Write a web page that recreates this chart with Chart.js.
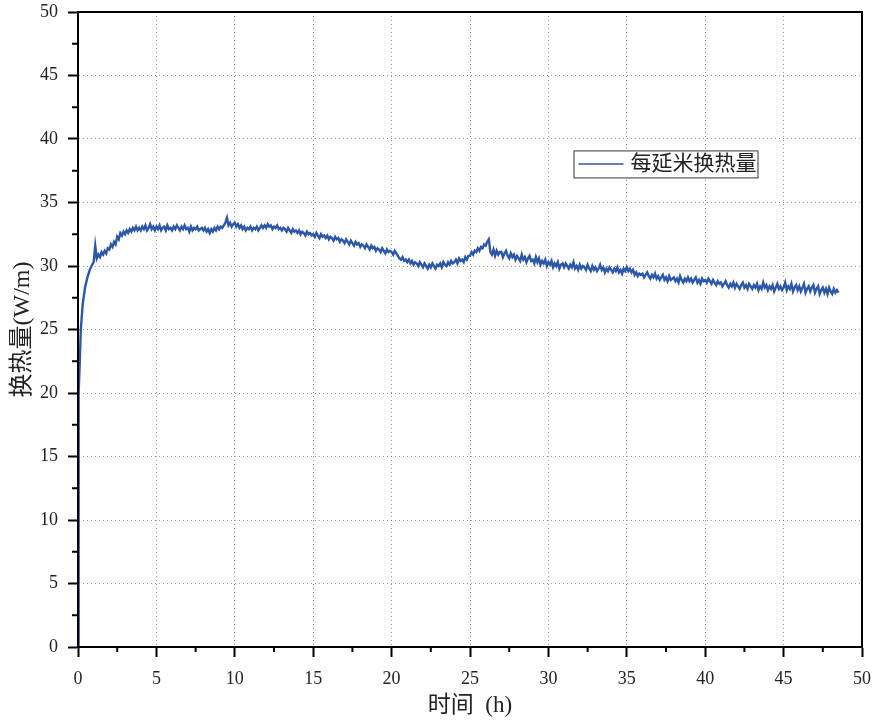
<!DOCTYPE html>
<html>
<head>
<meta charset="utf-8">
<script src="https://cdn.jsdelivr.net/npm/chart.js@4.4.1/dist/chart.umd.min.js"></script>
<style>
    html, body { margin: 0; padding: 0; background: #fff; }
    #wrap { width: 874px; height: 720px; }
</style>
</head>
<body>
<div id="wrap"><canvas id="heatChart"></canvas></div>
<script>

// start-up ramp (hours, W/m)
const rampHours = [0, 0.02, 0.04, 0.06, 0.1, 0.18, 0.3, 0.45, 0.6, 0.75, 0.9];
const rampValues = [0, 12, 17, 20, 22, 25, 27, 28.3, 29.1, 29.7, 30.1];

// logged readings, every 0.1 h from 1.0 h (one row = one hour)
const sampleStart = 1.0;
const sampleStep = 0.1;
const sampleValues = [
    30.3, 31.6, 30.6, 30.9, 30.7, 31.1, 30.9, 31.2, 31.0, 31.4,
    31.3, 31.7, 31.5, 31.9, 31.7, 32.3, 32.1, 32.6, 32.4, 32.7,
    32.5, 32.8, 32.6, 32.9, 32.7, 33.0, 32.8, 33.1, 32.8, 33.0,
    32.8, 33.1, 32.9, 33.2, 32.8, 33.0, 33.3, 32.9, 33.1, 32.8,
    33.1, 32.9, 33.2, 32.8, 33.0, 33.1, 32.8, 33.2, 32.9, 33.0,
    32.8, 33.1, 32.9, 33.2, 33.0, 32.8, 33.1, 32.9, 33.2, 32.9,
    33.0, 32.7, 33.1, 32.8, 33.0, 32.9, 33.1, 32.8, 32.9, 33.0,
    32.8, 33.0, 32.7, 32.9, 32.6, 32.9, 32.7, 33.0, 32.8, 33.1,
    32.9, 33.1, 33.0, 33.2, 33.4, 33.8, 33.2, 33.4, 33.1, 33.3,
    33.4, 33.1, 33.3, 33.0, 33.2, 32.9, 33.1, 32.8, 33.0, 32.9,
    33.1, 32.8, 33.0, 32.9, 33.1, 32.8, 33.0, 33.2, 33.0, 33.2,
    33.0, 33.3, 33.1, 33.2, 32.9, 33.1, 33.0, 33.2, 32.9, 33.0,
    32.8, 33.0, 32.9, 32.7, 33.0, 32.8, 32.6, 32.9, 32.7, 32.8,
    32.6, 32.8, 32.5, 32.7, 32.6, 32.4, 32.7, 32.5, 32.6, 32.4,
    32.5, 32.3, 32.6, 32.4, 32.2, 32.5, 32.3, 32.4, 32.2, 32.4,
    32.1, 32.3, 32.2, 32.0, 32.3, 32.1, 32.2, 31.9, 32.1, 32.0,
    31.8, 32.1, 31.9, 31.7, 32.0, 31.8, 31.6, 31.9, 31.7, 31.8,
    31.5, 31.7, 31.6, 31.4, 31.7, 31.5, 31.3, 31.6, 31.4, 31.5,
    31.2, 31.4, 31.3, 31.1, 31.4, 31.2, 31.0, 31.3, 31.1, 31.2,
    31.1, 30.9, 31.2, 31.0, 30.8, 30.6, 30.5, 30.7, 30.4, 30.5,
    30.3, 30.5, 30.2, 30.4, 30.1, 30.3, 30.2, 30.0, 30.3, 30.1,
    29.9, 30.2, 30.0, 29.8, 30.1, 29.9, 30.2, 30.0, 29.8, 30.1,
    30.0, 30.2, 29.9, 30.3, 30.1, 30.0, 30.3, 30.1, 30.4, 30.2,
    30.3, 30.5, 30.2, 30.6, 30.4, 30.5, 30.3, 30.7, 30.5, 30.8,
    30.8, 31.1, 30.9, 31.2, 31.1, 31.4, 31.2, 31.5, 31.4, 31.7,
    31.6, 31.9, 32.1, 31.1, 30.9, 31.3, 30.8, 31.2, 30.9, 31.1,
    31.1, 30.7, 31.0, 31.2, 30.8, 30.6, 31.0, 30.7, 30.9, 30.5,
    30.8, 30.6, 30.4, 30.9, 30.5, 30.7, 30.3, 30.6, 30.8, 30.4,
    30.5, 30.2, 30.7, 30.3, 30.6, 30.1, 30.4, 30.2, 30.5, 30.0,
    30.3, 30.1, 30.4, 29.9, 30.2, 30.0, 30.3, 29.8, 30.1, 30.2,
    29.9, 30.2, 30.0, 29.8, 30.1, 29.9, 30.3, 29.8, 30.0, 29.7,
    30.1, 29.8, 30.0, 29.9, 29.7, 30.1, 29.8, 29.6, 30.0, 29.7,
    29.9, 29.6, 29.8, 30.1, 29.7, 29.9, 29.5, 29.8, 29.6, 29.9,
    29.7, 29.5, 29.8, 29.6, 29.9, 29.5, 29.7, 29.4, 29.8, 29.6,
    29.9, 29.6, 29.8, 29.5, 29.7, 29.3, 29.5, 29.2, 29.4, 29.3,
    29.4, 29.1, 29.3, 29.5, 29.2, 29.0, 29.3, 29.1, 29.4, 29.0,
    29.2, 28.9, 29.1, 29.3, 28.9, 29.1, 28.8, 29.2, 28.9, 29.0,
    29.1, 28.8, 29.0, 28.7, 29.2, 28.9, 28.7, 29.0, 28.8, 29.1,
    28.8, 29.0, 28.7, 28.9, 29.1, 28.7, 28.9, 28.6, 29.0, 28.8,
    28.9, 28.7, 29.0, 28.8, 28.6, 28.9, 28.7, 28.5, 28.8, 28.6,
    28.7, 28.4, 28.6, 28.8, 28.5, 28.3, 28.6, 28.4, 28.7, 28.3,
    28.6, 28.4, 28.2, 28.5, 28.7, 28.3, 28.5, 28.2, 28.6, 28.4,
    28.2, 28.5, 28.3, 28.6, 28.1, 28.4, 28.2, 28.7, 28.3, 28.5,
    28.1, 28.4, 28.2, 28.5, 28.0, 28.3, 28.6, 28.2, 28.4, 28.1,
    28.3, 28.7, 28.1, 28.4, 28.2, 28.6, 28.0, 28.3, 28.5, 28.1,
    28.4, 28.0, 28.3, 28.6, 27.9, 28.2, 28.4, 28.0, 28.3, 28.5,
    27.9, 28.2, 28.4, 27.8, 28.1, 28.3, 27.9, 28.2, 27.8, 28.3,
    28.0, 27.8, 28.2, 27.9, 28.1, 27.9
];

const seriesName = "每延米换热量";
const xTitle = "时间  (h)";
const yTitle = "换热量(W/m)";
const axisMax = 50;
const majorStep = 5;
const minorStep = 2.5;

const serif = "'Liberation Serif', 'Noto Sans CJK SC', serif";
const lineColor = "#2b57a8";

// build the point list
const points = [];
rampHours.forEach((h, i) => points.push({ x: h, y: rampValues[i] }));
sampleValues.forEach((v, i) => {
    points.push({ x: +(sampleStart + i * sampleStep).toFixed(2), y: v });
});

// black frame + small minor ticks
const framePlugin = {
    id: "frame",
    afterDraw(chart) {
        const { ctx, chartArea, scales } = chart;
        ctx.save();
        ctx.strokeStyle = "#000";
        ctx.lineWidth = 2;
        ctx.strokeRect(chartArea.left, chartArea.top,
            chartArea.right - chartArea.left, chartArea.bottom - chartArea.top);

        ctx.beginPath();
        for (let v = minorStep; v < axisMax; v += majorStep) {
            const px = scales.x.getPixelForValue(v);
            ctx.moveTo(px, chartArea.bottom);
            ctx.lineTo(px, chartArea.bottom + 5);
            const py = scales.y.getPixelForValue(v);
            ctx.moveTo(chartArea.left, py);
            ctx.lineTo(chartArea.left - 6, py);
        }
        ctx.stroke();
        ctx.restore();
    }
};

// legend box inside the plot
const legendBoxPlugin = {
    id: "legendBox",
    afterDraw(chart) {
        const { ctx, scales } = chart;
        const ds = chart.data.datasets[0];
        const left = scales.x.getPixelForValue(31.6);
        const top = scales.y.getPixelForValue(39.1);
        const w = 184, h = 27;
        ctx.save();
        ctx.fillStyle = "#fff";
        ctx.fillRect(left, top, w, h);
        ctx.strokeStyle = "#333";
        ctx.lineWidth = 1;
        ctx.strokeRect(left + 0.5, top + 0.5, w, h);
        ctx.strokeStyle = ds.borderColor;
        ctx.lineWidth = 1.5;
        ctx.beginPath();
        ctx.moveTo(left + 5, top + h / 2);
        ctx.lineTo(left + 50, top + h / 2);
        ctx.stroke();
        ctx.fillStyle = "#222";
        ctx.font = "21px " + serif;
        ctx.textBaseline = "middle";
        ctx.fillText(ds.label, left + 57, top + h / 2 + 1);
        ctx.restore();
    }
};

new Chart(document.getElementById("heatChart"), {
    type: "line",
    data: {
        datasets: [{
            label: seriesName,
            data: points,
            borderColor: lineColor,
            borderWidth: 2.4,
            pointRadius: 0,
            tension: 0,
            fill: false
        }]
    },
    options: {
        responsive: true,
        maintainAspectRatio: false,
        animation: false,
        layout: { padding: { top: 12, right: 12, left: 0, bottom: 0 } },
        plugins: {
            legend: { display: false },
            tooltip: { enabled: false }
        },
        scales: {
            x: {
                type: "linear",
                min: 0,
                max: axisMax,
                afterFit(scale) {
                    scale.height = 73;
                    scale.paddingLeft = 0;
                    scale.paddingRight = 0;
                },
                ticks: {
                    stepSize: majorStep,
                    padding: 11,
                    color: "#222",
                    font: { family: serif, size: 18 }
                },
                grid: {
                    color: "rgba(0,0,0,0.4)",
                    lineWidth: 1,
                    tickColor: "#000",
                    tickLength: 10,
                    tickWidth: 2
                },
                border: { display: true, color: "#000", width: 2, dash: [1, 3] },
                title: {
                    display: true,
                    text: xTitle,
                    color: "#222",
                    font: { family: serif, size: 23 },
                    padding: { top: 0, bottom: 0 }
                }
            },
            y: {
                min: 0,
                max: axisMax,
                afterFit(scale) {
                    scale.width = 78;
                    scale.paddingTop = 0;
                    scale.paddingBottom = 0;
                },
                ticks: {
                    stepSize: majorStep,
                    padding: 10,
                    color: "#222",
                    font: { family: serif, size: 18 }
                },
                grid: {
                    color: "rgba(0,0,0,0.4)",
                    lineWidth: 1,
                    tickColor: "#000",
                    tickLength: 10,
                    tickWidth: 2
                },
                border: { display: true, color: "#000", width: 2, dash: [1, 3] },
                title: {
                    display: true,
                    text: yTitle,
                    color: "#222",
                    font: { family: serif, size: 24 },
                    padding: { top: 8, bottom: 0 }
                }
            }
        }
    },
    plugins: [framePlugin, legendBoxPlugin]
});
</script>
</body>
</html>
